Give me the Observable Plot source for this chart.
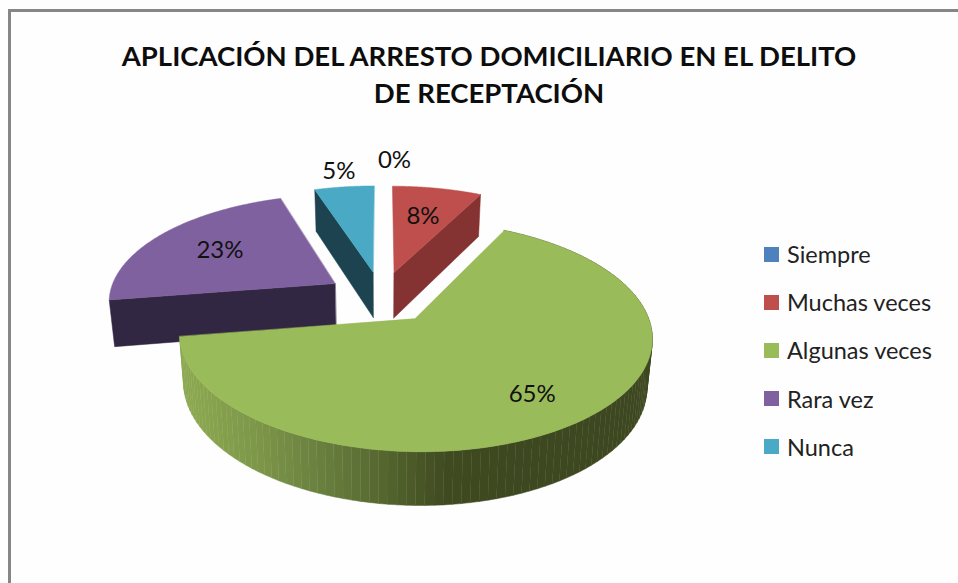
<!DOCTYPE html>
<html><head><meta charset="utf-8">
<script src="https://cdn.jsdelivr.net/npm/d3@7"></script>
<script src="https://cdn.jsdelivr.net/npm/@observablehq/plot@0.6"></script>
<style>
html,body{margin:0;padding:0;background:#fff}
#c{position:relative;width:958px;height:583px;overflow:hidden;background:#fefefe;font-family:Lato,sans-serif;color:#111}
#c svg{position:absolute;left:0;top:0;background:transparent}
#frame{position:absolute;left:8px;top:9px;right:-5px;bottom:-5px;border:3px solid #868686}
#title{position:absolute;left:24px;width:930px;top:37px;text-align:center;font-weight:700;font-size:27.5px;line-height:37px;color:#0d0d0d;z-index:2}
#legend{position:absolute;left:764px;top:230px;z-index:2}
.row{display:flex;align-items:center;height:48.2px;font-size:23.5px;color:#222}
.sw{width:15px;height:15px;margin-right:8px}
</style></head><body>
<div id="c"><div id="frame"></div><div id="title">APLICACIÓN DEL ARRESTO DOMICILIARIO EN EL DELITO<br>DE RECEPTACIÓN</div><div id="legend"></div></div>
<script>
const categories = ["Siempre","Muchas veces","Algunas veces","Rara vez","Nunca"];
const shares = [0,7.5,65,22.5,5];
const percentLabels = ["0%","8%","65%","23%","5%"];
const topColors = ["#4F81BD","#BE4F4C","#9ABB59","#8061A0","#4AAAC5"];
const wallColors = ["#2A4A70","#853332","#6d8a3c","#322742","#1D4350"];
const labelRadius = [1.36,0.64,0.75,0.65,1.22];
const labelTurn = [3,0,0,0,0];
const greenWallStops = ["#8BA850","#7D9749","#6A803F","#55672F","#3F4A20","#3E4820"];

// drawing of the tilted, exploded disc
const cx=381, cy=296.4, a=226.6, b=106, e=0.15, depth=46.6, shrink=0.98, explode=0.245;
function proj(u,v,low){
  const w=1-e*v, s=low?shrink:1;
  return {x:cx+s*a*u/w, y:cy+s*b*v/w+(low?depth/w:0)};
}
const arcs=d3.pie().sort(null).startAngle(0).endAngle(2*Math.PI).value(d=>d)(shares);
const pts=[];
function poly(id,color,list){list.forEach(p=>pts.push({id,color,x:p.x,y:p.y}));}
function rim(o,t,low){return proj(o.u+Math.sin(t),o.v-Math.cos(t),low);}
const origin=arcs.map(s=>{const m=(s.startAngle+s.endAngle)/2;return {u:explode*Math.sin(m),v:-explode*Math.cos(m),m};});

[4,1,3,2].forEach(i=>{
  const s=arcs[i],o=origin[i],steps=d3.range(0,121).map(k=>s.startAngle+(s.endAngle-s.startAngle)*k/120);
  if(i===2){
    const ramp=d3.scaleLinear().domain(d3.range(6).map(k=>190+k*64)).range(greenWallStops).clamp(true);
    for(let k=0;k<120;k++){
      const t0=steps[k],t1=steps[k+1];
      poly("w"+k,ramp(rim(o,(t0+t1)/2,false).x),[rim(o,t0),rim(o,t1),rim(o,t1,true),rim(o,t0,true)]);
    }
  } else {
    const t=i===1?s.endAngle:s.startAngle;
    poly("r"+i,wallColors[i],[proj(o.u,o.v),rim(o,t),rim(o,t,true),proj(o.u,o.v,true)]);
  }
  poly("t"+i,topColors[i],[proj(o.u,o.v),...steps.map(t=>rim(o,t))]);
});

const labels=arcs.map((s,i)=>{
  const o=origin[i],m=o.m+labelTurn[i]*Math.PI/180,r=labelRadius[i];
  const p=proj(o.u+r*Math.sin(m),o.v-r*Math.cos(m));
  return {text:percentLabels[i],x:p.x,y:p.y};
});

const plot=Plot.plot({
  width:958,height:583,margin:0,
  x:{domain:[0,958],range:[0,958],axis:null},
  y:{domain:[0,583],range:[0,583],axis:null},
  color:{type:"identity"},
  style:{background:"transparent"},
  marks:[
    Plot.line(pts,{x:"x",y:"y",z:"id",fill:"color",stroke:"color",strokeWidth:0.5,curve:"linear-closed"}),
    Plot.text(labels,{x:"x",y:"y",text:"text",fontSize:24,fontFamily:"Lato, sans-serif",fill:"#111"})
  ]
});
document.getElementById("c").appendChild(plot);
const legend=d3.select("#legend");
categories.forEach((c,i)=>{
  const r=legend.append("div").attr("class","row");
  r.append("div").attr("class","sw").style("background",topColors[i]);
  r.append("div").text(c);
});
</script></body></html>
